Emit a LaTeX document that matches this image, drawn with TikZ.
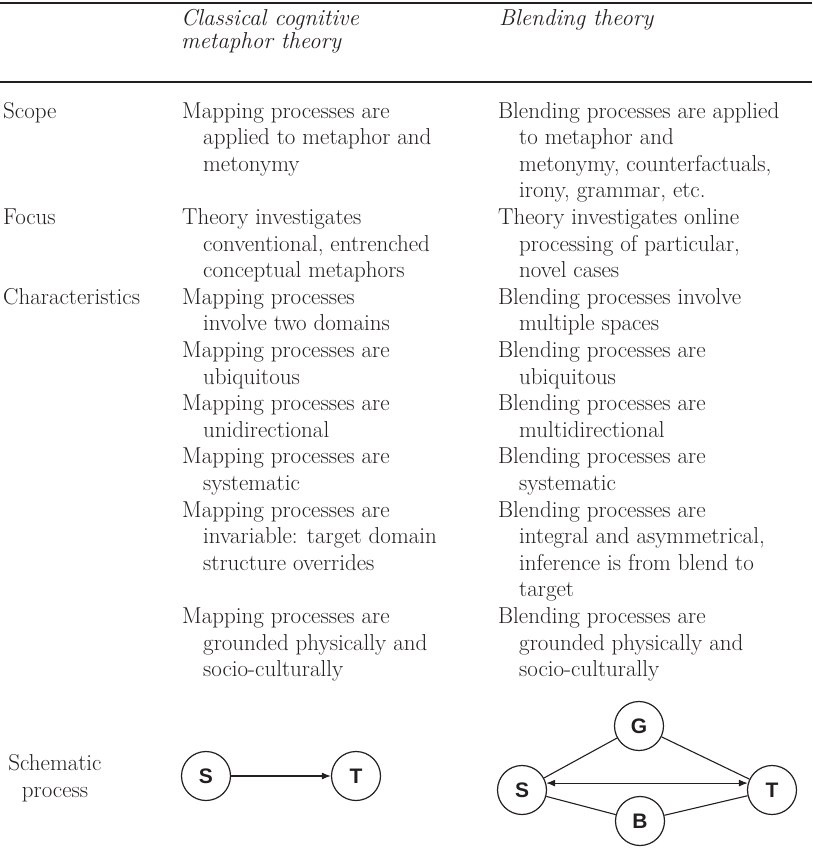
\documentclass[tikz,border=0pt]{standalone}
\usepackage{fontspec}
\usepackage{tikz}
\usetikzlibrary{arrows.meta, positioning}
\newfontfamily\circfont{Liberation Sans}
\definecolor{ink}{RGB}{35,31,32}
\newcommand\hind{\hspace*{21pt}}

\begin{document}
\begin{tikzpicture}[x=1pt, y=-1pt,
    cell/.style={anchor=base west, align=left, inner sep=0pt, text=ink,
                 font=\fontsize{23}{26.6}\selectfont},
    head/.style={cell, font=\fontsize{23}{23.5}\selectfont\itshape},
    proc/.style={circle, draw=ink, line width=1.2pt, minimum size=49pt,
                 inner sep=0pt, text=ink, font=\circfont\bfseries\fontsize{21}{21}\selectfont},
    link/.style={draw=ink, line width=1.1pt},
    ar/.style={link, -{Latex[length=9pt, width=7pt]}},
    dar/.style={link, {Latex[length=9pt, width=7pt]}-{Latex[length=9pt, width=7pt]}}
]
\useasboundingbox (0,0) rectangle (812,860);
% rules
\draw[ink, line width=2pt] (0,3) -- (812,3);
\draw[ink, line width=1.4pt] (0,82) -- (812,82);

% header (multi-line cells sit on their last baseline)
\node[head] (hClassic) at (181,48.5) {Classical cognitive\\metaphor theory};
\node[head] (hBlend) at (499,25) {Blending theory};

% row labels
\node[cell] (lScope) at (3,118) {Scope};
\node[cell] (lFocus) at (3,224.4) {Focus};
\node[cell] (lChar) at (3,304.2) {Characteristics};
\node[cell, anchor=base, align=center, font=\fontsize{23}{27}\selectfont]
    (lSchem) at (55,797) {Schematic\\process};

% classical column
\node[cell] (mScope) at (182,171.2) {Mapping processes are\\\hind applied to metaphor and\\\hind metonymy};
\node[cell] (mFocus) at (182,277.6) {Theory investigates\\\hind conventional, entrenched\\\hind conceptual metaphors};
\node[cell] (mTwo) at (182,330.8) {Mapping processes\\\hind involve two domains};
\node[cell] (mUbiq) at (182,384) {Mapping processes are\\\hind ubiquitous};
\node[cell] (mDir) at (182,437.2) {Mapping processes are\\\hind unidirectional};
\node[cell] (mSyst) at (182,490.4) {Mapping processes are\\\hind systematic};
\node[cell] (mInv) at (182,570.2) {Mapping processes are\\\hind invariable: target domain\\\hind structure overrides};
\node[cell] (mGround) at (182,676.6) {Mapping processes are\\\hind grounded physically and\\\hind socio-culturally};

% blending column
\node[cell] (bScope) at (498,197.8) {Blending processes are applied\\\hind to metaphor and\\\hind metonymy, counterfactuals,\\\hind irony, grammar, etc.};
\node[cell] (bFocus) at (498,277.6) {Theory investigates online\\\hind processing of particular,\\\hind novel cases};
\node[cell] (bMulti) at (498,330.8) {Blending processes involve\\\hind multiple spaces};
\node[cell] (bUbiq) at (498,384) {Blending processes are\\\hind ubiquitous};
\node[cell] (bDir) at (498,437.2) {Blending processes are\\\hind multidirectional};
\node[cell] (bSyst) at (498,490.4) {Blending processes are\\\hind systematic};
\node[cell] (bInt) at (498,596.8) {Blending processes are\\\hind integral and asymmetrical,\\\hind inference is from blend to\\\hind target};
\node[cell] (bGround) at (498,676.6) {Blending processes are\\\hind grounded physically and\\\hind socio-culturally};

% schematic: mapping
\node[proc] (mS) at (206,776) {S};
\node[proc] (mT) at (356,776) {T};
\draw[ar] (mS) -- (mT);

% schematic: blending
\node[proc] (bS) at (522,790) {S};
\node[proc] (bT) at (772,790) {T};
\node[proc] (bG) at (639,726) {G};
\node[proc] (bB) at (640,821) {B};
\draw[link] (bS) -- (bG);
\draw[link] (bG) -- (bT);
\draw[link] (bS) -- (bB);
\draw[link] (bB) -- (bT);
\draw[dar] (bS.16) -- (bT.164);
\end{tikzpicture}
\end{document}
